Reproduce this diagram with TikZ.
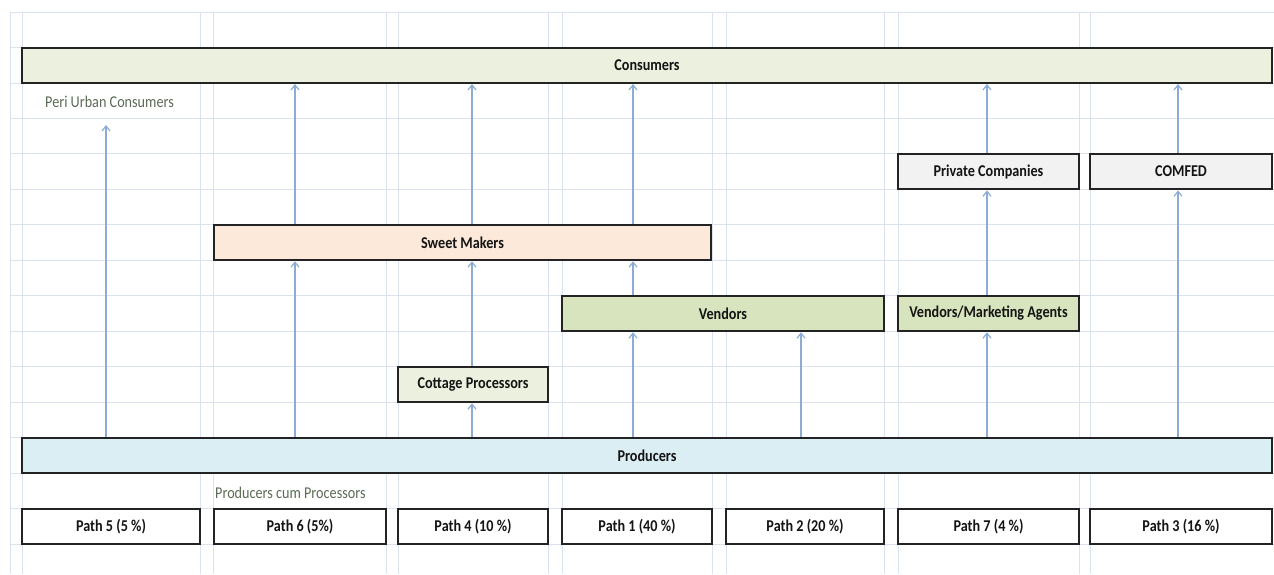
\documentclass[tikz,border=0pt]{standalone}
\usepackage{fontspec}
\setmainfont{Carlito}
\newfontfamily\condfont[FakeStretch=0.86]{Carlito}
\usetikzlibrary{arrows.meta}
\definecolor{gridc}{RGB}{218,226,239}
\definecolor{arrc}{RGB}{140,172,212}
\definecolor{boxline}{RGB}{35,35,35}
\definecolor{consfill}{RGB}{235,241,222}
\definecolor{prodfill}{RGB}{218,238,243}
\definecolor{sweetfill}{RGB}{253,233,217}
\definecolor{vendfill}{RGB}{215,228,189}
\definecolor{greyfill}{RGB}{242,242,242}
\definecolor{labelc}{RGB}{90,106,84}
\tikzset{
  box/.style={draw=boxline, line width=2pt, rectangle, inner sep=0pt,
    minimum height=35.5pt, font=\condfont\fontsize{16.5}{18}\selectfont\bfseries, text=black!92},
  arr/.style={draw=arrc, line width=1.2pt, -{Straight Barb[length=5pt,width=8pt]}},
  lab/.style={font=\condfont\fontsize{16.5}{18}\selectfont, text=labelc, inner sep=0pt, anchor=west},
  gridl/.style={draw=gridc, line width=1pt}
}
\begin{document}
\begin{tikzpicture}[x=1pt,y=-1pt]
\useasboundingbox (0,0) rectangle (1274,574);
% spreadsheet grid
\foreach \yy in {12,47.5,83,118.4,153.9,189.4,224.8,260.3,295.8,331.2,366.7,402.2,437.6,473.1,508.6,544}
  \draw[gridl] (10,\yy) -- (1274,\yy);
\foreach \xx in {10,22,200,213,386,398,548,562,712,726,884,898,1079,1090}
  \draw[gridl] (\xx,12) -- (\xx,574);
% boxes
\node[box, fill=consfill, minimum width=1250pt] (cons) at (647,65.25) {Consumers};
\node[box, fill=greyfill, minimum width=181pt] (priv) at (988.5,171.6) {Private Companies};
\node[box, fill=greyfill, minimum width=182pt] (comfed) at (1181,171.6) {COMFED};
\node[box, fill=sweetfill, minimum width=497pt] (sweet) at (462.5,242.5) {Sweet Makers};
\node[box, fill=vendfill, minimum width=322pt] (vend) at (723,313.5) {Vendors};
\node[box, fill=vendfill, minimum width=181pt] (vma) at (988.5,313.5) {Vendors/Marketing Agents};
\node[box, fill=consfill, minimum width=150pt] (cott) at (473,384.5) {Cottage Processors};
\node[box, fill=prodfill, minimum width=1250pt] (prod) at (647,455.3) {Producers};
\node[box, fill=white, minimum width=178pt] (p5) at (111,526.3) {Path 5 (5 \%)};
\node[box, fill=white, minimum width=172pt] (p6) at (300,526.3) {Path 6 (5\%)};
\node[box, fill=white, minimum width=150pt] (p4) at (473,526.3) {Path 4 (10 \%)};
\node[box, fill=white, minimum width=150pt] (p1) at (637,526.3) {Path 1 (40 \%)};
\node[box, fill=white, minimum width=158pt] (p2) at (805,526.3) {Path 2 (20 \%)};
\node[box, fill=white, minimum width=181pt] (p7) at (988.5,526.3) {Path 7 (4 \%)};
\node[box, fill=white, minimum width=182pt] (p3) at (1181,526.3) {Path 3 (16 \%)};
% labels
\node[lab] (peri) at (45,102) {Peri Urban Consumers};
\node[lab] (pcp) at (215,493) {Producers cum Processors};
% columns
\coordinate (c1) at (106,0);
\coordinate (c2) at (295,0);
\coordinate (c3) at (472,0);
\coordinate (c4) at (633,0);
\coordinate (c5) at (801,0);
\coordinate (c6) at (987,0);
\coordinate (c7) at (1178,0);
\coordinate (pu) at (106,125);
% arrows
\draw[arr] (prod.north -| c1) -- (pu);
\draw[arr] (prod.north -| c2) -- (sweet.south -| c2);
\draw[arr] (sweet.north -| c2) -- (cons.south -| c2);
\draw[arr] (prod.north -| c3) -- (cott.south -| c3);
\draw[arr] (cott.north -| c3) -- (sweet.south -| c3);
\draw[arr] (sweet.north -| c3) -- (cons.south -| c3);
\draw[arr] (prod.north -| c4) -- (vend.south -| c4);
\draw[arr] (vend.north -| c4) -- (sweet.south -| c4);
\draw[arr] (sweet.north -| c4) -- (cons.south -| c4);
\draw[arr] (prod.north -| c5) -- (vend.south -| c5);
\draw[arr] (prod.north -| c6) -- (vma.south -| c6);
\draw[arr] (vma.north -| c6) -- (priv.south -| c6);
\draw[arr] (priv.north -| c6) -- (cons.south -| c6);
\draw[arr] (prod.north -| c7) -- (comfed.south -| c7);
\draw[arr] (comfed.north -| c7) -- (cons.south -| c7);
\end{tikzpicture}
\end{document}
